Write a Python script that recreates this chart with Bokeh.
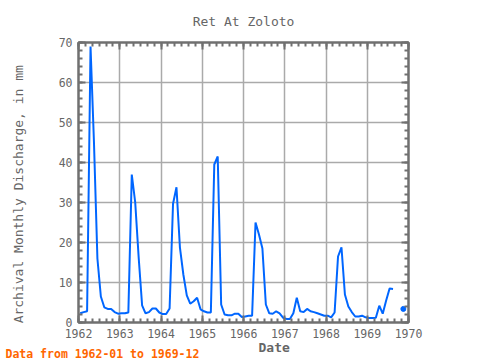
import math
import numpy as np
from bokeh.plotting import figure
from bokeh.models import Range1d, FixedTicker, LinearAxis, Title, ColumnDataSource
from bokeh.embed import file_html
from bokeh.resources import INLINE

# ---- data (monthly discharge, mm) ----
years = [1962, 1963, 1964, 1965, 1966, 1967, 1968, 1969]
NaN = float("nan")
q1962 = [2.3, 2.6, 2.8, 69.0, 45.0, 16.0, 6.5, 3.8, 3.4, 3.4, 2.6, 2.2]
q1963 = [2.3, 2.3, 2.5, 37.0, 30.0, 16.3, 4.3, 2.3, 2.6, 3.5, 3.5, 2.5]
q1964 = [2.1, 2.1, 3.5, 29.7, 33.8, 18.8, 12.0, 6.8, 4.7, 5.3, 6.2, 3.3]
q1965 = [2.8, 2.5, 2.5, 39.5, 41.5, 4.5, 2.0, 1.8, 1.8, 2.2, 2.2, 1.4]
q1966 = [1.5, 1.7, 1.7, 25.0, 22.0, 18.5, 4.5, 2.3, 2.2, 2.8, 2.3, 1.2]
q1967 = [0.9, 0.9, 2.3, 6.2, 2.8, 2.6, 3.4, 2.8, 2.6, 2.3, 2.0, 1.7]
q1968 = [1.7, 1.3, 2.5, 16.5, 18.8, 7.0, 4.0, 2.6, 1.5, 1.5, 1.7, 1.3]
q1969 = [1.1, 1.1, 1.2, 4.2, 2.2, 5.5, 8.5, 8.4, NaN, NaN, 3.4, NaN]
x_ticks = [1962, 1963, 1964, 1965, 1966, 1967, 1968, 1969, 1970]
y_ticks = [0, 10, 20, 30, 40, 50, 60, 70]

title_text = "Ret At Zoloto"
y_label_text = "Archival Monthly Discharge, in mm"
x_label_text = "Date"
note_text = "Data from 1962-01 to 1969-12"

series = [q1962, q1963, q1964, q1965, q1966, q1967, q1968, q1969]
xs, vs = [], []
for yr, vals in zip(years, series):
    for m, v in enumerate(vals):
        xs.append(yr + (m + 0.5) / 12.0)
        vs.append(v)
xs = np.array(xs)
vs = np.array(vs, dtype=float)

# isolated points (no neighbours) drawn as dots
iso = []
for i in range(len(vs)):
    if math.isnan(vs[i]):
        continue
    left = i == 0 or math.isnan(vs[i - 1])
    right = i == len(vs) - 1 or math.isnan(vs[i + 1])
    if left and right:
        iso.append(i)

FONT = "DejaVu Sans Mono"
GRAY = "#707070"
TXT = "#666666"
BLUE = "#0066ff"

p = figure(width=480, height=360, output_backend="svg", toolbar_location=None,
           x_range=Range1d(1962, 1970), y_range=Range1d(0, 70),
           min_border_left=78, min_border_right=72, min_border_top=42, min_border_bottom=38)
p.background_fill_color = "white"
p.border_fill_color = "white"
p.outline_line_color = GRAY
p.outline_line_width = 2

x_minor = [1962 + k / 6.0 for k in range(0, 49)]
y_minor = list(range(0, 71, 2))
xt = FixedTicker(ticks=x_ticks, minor_ticks=x_minor)
yt = FixedTicker(ticks=y_ticks, minor_ticks=y_minor)

def style_axis(ax, labels=True):
    ax.axis_line_color = GRAY
    ax.axis_line_width = 2
    ax.major_tick_line_color = GRAY
    ax.major_tick_line_width = 2
    ax.minor_tick_line_color = GRAY
    ax.minor_tick_line_width = 2
    ax.major_tick_in = 7
    ax.major_tick_out = 0
    ax.minor_tick_in = 4
    ax.minor_tick_out = 0
    ax.major_label_text_font = FONT
    ax.major_label_text_font_size = "11.5px"
    ax.major_label_text_color = TXT if labels else None
    ax.major_label_standoff = 6

p.xaxis.ticker = xt
p.yaxis.ticker = yt
style_axis(p.xaxis[0])
style_axis(p.yaxis[0])
yax = p.yaxis[0]
# trailing no-break spaces nudge the centred label towards the frame bottom, as in the original
yax.axis_label = y_label_text + "\u00a0\u00a0\u00a0"
yax.axis_label_text_font = FONT
yax.axis_label_text_font_size = "13px"
yax.axis_label_text_font_style = "normal"
yax.axis_label_text_color = TXT
yax.axis_label_standoff = 30

top = LinearAxis(ticker=xt)
style_axis(top, labels=False)
top.major_label_text_font_size = "1px"
top.major_label_standoff = 0
p.add_layout(top, "above")
right = LinearAxis(ticker=yt)
style_axis(right, labels=False)
right.major_label_text_font_size = "1px"
right.major_label_standoff = 0
p.add_layout(right, "right")

p.xgrid.ticker = xt
p.ygrid.ticker = yt
p.xgrid.grid_line_color = "#aaaaaa"
p.ygrid.grid_line_color = "#aaaaaa"
p.xgrid.grid_line_width = 1.5
p.ygrid.grid_line_width = 1.5

src = ColumnDataSource(dict(x=xs, y=vs))
p.line("x", "y", source=src, line_color=BLUE, line_width=2)
isrc = ColumnDataSource(dict(x=xs[iso], y=vs[iso]))
p.scatter("x", "y", source=isrc, size=5, color=BLUE)

p.title.text = title_text
p.title.align = "center"
p.title.vertical_align = "top"
p.title.text_font = FONT
p.title.text_font_size = "13px"
p.title.text_font_style = "normal"
p.title.text_color = TXT
p.title.standoff = 24

p.add_layout(Title(text=x_label_text, align="left", offset=180, text_font=FONT,
                   text_font_size="13px", text_font_style="bold", text_color=TXT,
                   standoff=-6), "below")
p.add_layout(Title(text=note_text, align="left", offset=-73, text_font=FONT,
                   text_font_size="11.5px", text_font_style="bold", text_color="#ff6600",
                   standoff=-13), "below")

open("out.html", "w").write(file_html(p, INLINE))
